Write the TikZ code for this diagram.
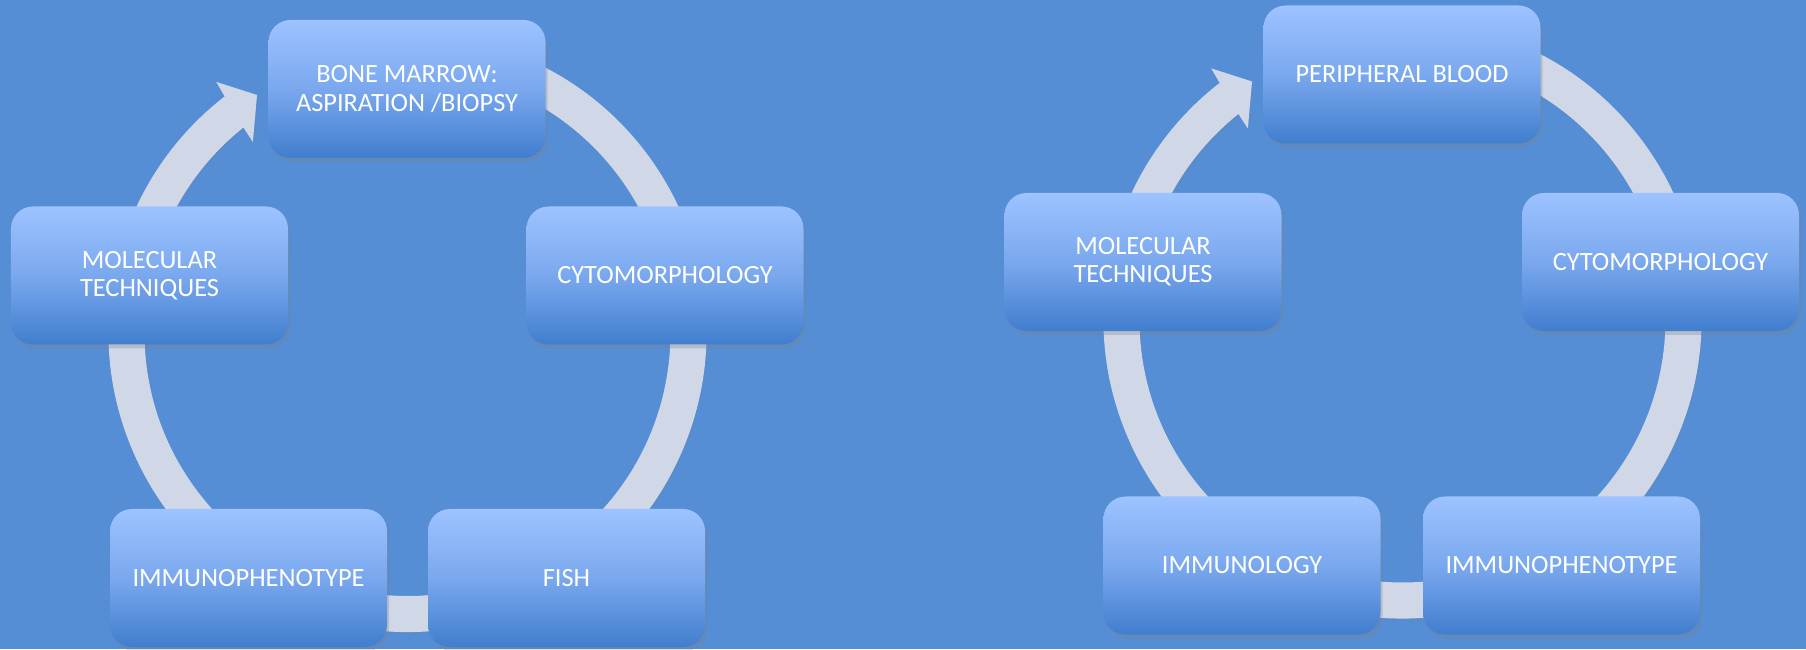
\documentclass[tikz,border=0pt]{standalone}
\usepackage{fontspec}
\setmainfont{Carlito}
\usetikzlibrary{shadows}
\definecolor{bgblue}{RGB}{85, 142, 213}
\definecolor{boxtop}{RGB}{157, 195, 255}
\definecolor{boxmid}{RGB}{122, 168, 238}
\definecolor{boxbot}{RGB}{64, 126, 206}
\definecolor{ringgray}{RGB}{208, 216, 232}

\begin{document}
\begin{tikzpicture}[
    box/.style={rectangle, rounded corners=0.22cm, minimum width=2.77cm,
                minimum height=1.38cm, align=center, text=white,
                font=\fontsize{7.5}{8}\selectfont,
                top color=boxtop, bottom color=boxbot, middle color=boxmid,
                drop shadow={opacity=0.3, shadow xshift=0.02cm, shadow yshift=-0.04cm}},
    ring/.style={fill=ringgray,
                drop shadow={opacity=0.15, shadow xshift=0.01cm, shadow yshift=-0.02cm}}]

    % Background
    \fill[bgblue] (0, 0) rectangle (18.06, 6.49);
    \useasboundingbox (0, 0) rectangle (18.06, 6.49);

    % Centres of the two cycles
    \coordinate (cl) at (4.075, 3.16);
    \coordinate (cr) at (14.025, 3.295);

    % Rings
    \begin{scope}[shift={(cl)}]
        \fill[ring] (70:2.99) arc[start angle=70, end angle=-232.3, radius=2.99]
            -- (-232.7:3.157) -- (-237.7:2.816) -- (-231:2.457) -- (-231.4:2.63)
            arc[start angle=-231.4, end angle=70, radius=2.63] -- cycle;
    \end{scope}
    \begin{scope}[shift={(cr)}]
        \fill[ring] (70:2.99) arc[start angle=70, end angle=-232.3, radius=2.99]
            -- (-232.7:3.157) -- (-237.7:2.816) -- (-231:2.457) -- (-231.4:2.63)
            arc[start angle=-231.4, end angle=70, radius=2.63] -- cycle;
    \end{scope}

    % Bone marrow cycle
    \node[box] (bm) at (4.07, 5.60) {BONE MARROW:\\ASPIRATION /BIOPSY};
    \node[box] (cyto) at (6.65, 3.735) {CYTOMORPHOLOGY};
    \node[box] (fish) at (5.665, 0.71) {FISH};
    \node[box] (immpheno) at (2.485, 0.71) {IMMUNOPHENOTYPE};
    \node[box] (molec) at (1.495, 3.735) {MOLECULAR\\TECHNIQUES};

    % Peripheral blood cycle
    \node[box] (pb) at (14.02, 5.745) {PERIPHERAL BLOOD};
    \node[box] (cyto2) at (16.605, 3.87) {CYTOMORPHOLOGY};
    \node[box] (immpheno2) at (15.615, 0.835) {IMMUNOPHENOTYPE};
    \node[box] (immuno) at (12.42, 0.835) {IMMUNOLOGY};
    \node[box] (molec2) at (11.43, 3.87) {MOLECULAR\\TECHNIQUES};
\end{tikzpicture}
\end{document}
